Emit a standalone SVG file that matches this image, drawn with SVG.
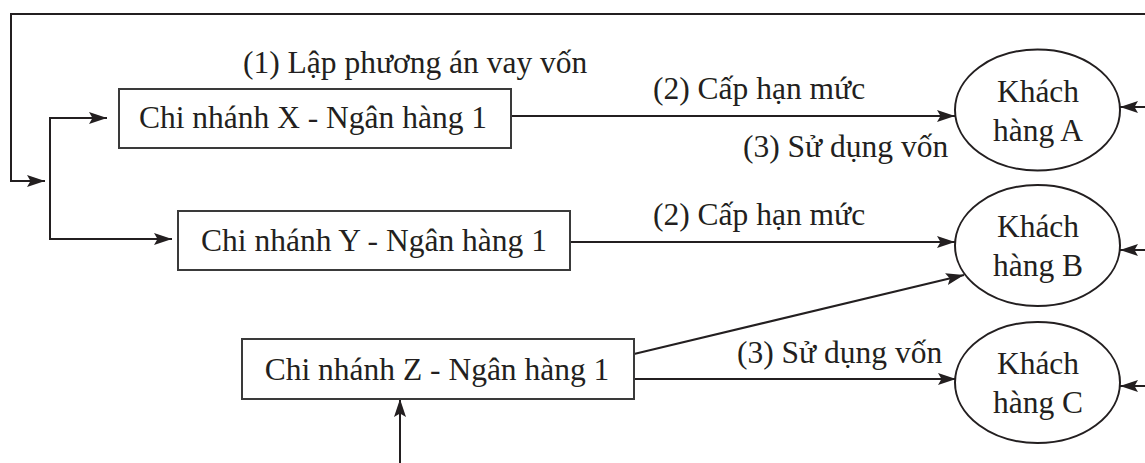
<svg xmlns="http://www.w3.org/2000/svg" width="1145" height="463" viewBox="0 0 1145 463">
<style>
text{font-family:"Liberation Serif","Times New Roman",serif;font-size:31.5px;fill:#231f20}
.box{fill:#fff;stroke:#3a3a3a;stroke-width:2}
.ell{fill:#fff;stroke:#231f20;stroke-width:2}
.ln{fill:none;stroke:#231f20;stroke-width:2}
</style>
<defs>
<marker id="ar" markerUnits="userSpaceOnUse" markerWidth="19" markerHeight="14" refX="18" refY="7" orient="auto">
<path d="M0,1 L18,7 L0,13 L3.5,7 z" fill="#231f20"/>
</marker>
</defs>
<rect width="1145" height="463" fill="#fff"/>
<g id="connectors">
<polyline class="ln" points="1145,14 11,14 11,181 45,181" marker-end="url(#ar)"/>
<line class="ln" x1="50" y1="117" x2="50" y2="240"/>
<line class="ln" x1="49" y1="118" x2="107" y2="118" marker-end="url(#ar)"/>
<line class="ln" x1="49" y1="239" x2="172" y2="239" marker-end="url(#ar)"/>
<line class="ln" x1="511" y1="116" x2="955" y2="116" marker-end="url(#ar)"/>
<line class="ln" x1="570" y1="242" x2="955" y2="242" marker-end="url(#ar)"/>
<line class="ln" x1="634" y1="354" x2="964" y2="275" marker-end="url(#ar)"/>
<line class="ln" x1="634" y1="379" x2="956" y2="379" marker-end="url(#ar)"/>
<line class="ln" x1="1145" y1="107" x2="1120" y2="107" marker-end="url(#ar)"/>
<line class="ln" x1="1145" y1="250" x2="1120" y2="250" marker-end="url(#ar)"/>
<line class="ln" x1="1145" y1="386" x2="1120" y2="386" marker-end="url(#ar)"/>
<line class="ln" x1="400" y1="463" x2="400" y2="399" marker-end="url(#ar)"/>
<text x="243" y="73">(1) Lập phương án vay vốn</text>
<text x="653" y="99">(2) Cấp hạn mức</text>
<text x="743" y="157">(3) Sử dụng vốn</text>
<text x="653" y="225">(2) Cấp hạn mức</text>
<text x="737" y="363">(3) Sử dụng vốn</text>
</g>
<g id="nodeX">
<rect class="box" x="119" y="89" width="392" height="59"/>
<text x="313" y="128" text-anchor="middle">Chi nhánh X - Ngân hàng 1</text>
</g>
<g id="nodeY">
<rect class="box" x="178" y="211" width="392" height="59"/>
<text x="374" y="251" text-anchor="middle">Chi nhánh Y - Ngân hàng 1</text>
</g>
<g id="nodeZ">
<rect class="box" x="242" y="339" width="392" height="60"/>
<text x="437" y="380" text-anchor="middle">Chi nhánh Z - Ngân hàng 1</text>
</g>
<g id="nodeA">
<ellipse class="ell" cx="1037.5" cy="110" rx="82.5" ry="60.5"/>
<text x="1038" y="102" text-anchor="middle">Khách</text>
<text x="1038" y="141" text-anchor="middle">hàng A</text>
</g>
<g id="nodeB">
<ellipse class="ell" cx="1037.5" cy="245.5" rx="82.5" ry="60.5"/>
<text x="1038" y="237" text-anchor="middle">Khách</text>
<text x="1038" y="276" text-anchor="middle">hàng B</text>
</g>
<g id="nodeC">
<ellipse class="ell" cx="1037.5" cy="382.5" rx="82.5" ry="60.5"/>
<text x="1038" y="374" text-anchor="middle">Khách</text>
<text x="1038" y="413" text-anchor="middle">hàng C</text>
</g>
</svg>
